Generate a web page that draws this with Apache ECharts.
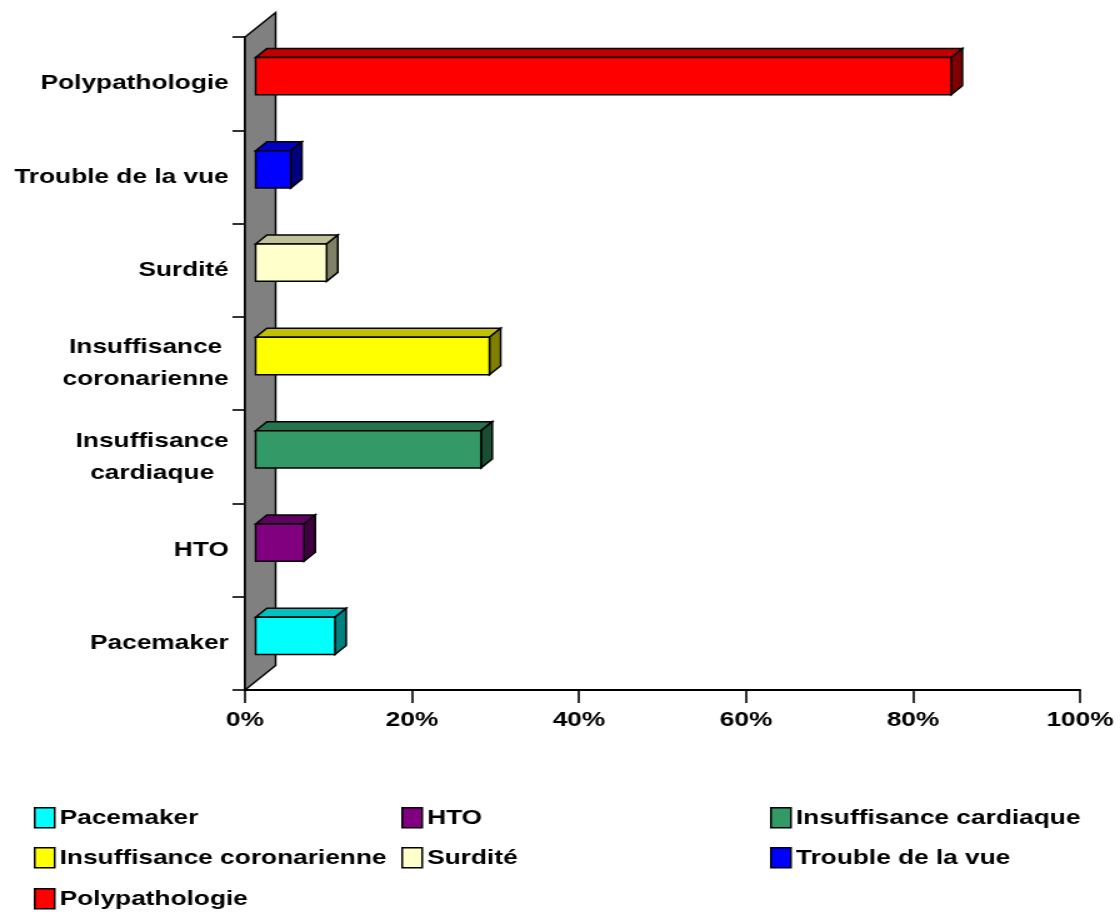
<!DOCTYPE html>
<html>
<head>
<meta charset="utf-8">
<script src="https://cdn.jsdelivr.net/npm/echarts@6/dist/echarts.min.js"></script>
<style>
  html, body { margin: 0; padding: 0; background: #fff; overflow: hidden; }
  /* the chart is laid out narrow and stretched horizontally, like the original wide export */
  #chart { width: 896px; height: 912px; transform: scaleX(1.25); transform-origin: 0 0; }
</style>
</head>
<body>
<div id="chart"></div>
<script>
// Categories, bottom to top
const categories = ['Pacemaker', 'HTO', 'Insuffisance cardiaque', 'Insuffisance coronarienne', 'Surdité', 'Trouble de la vue', 'Polypathologie'];
const axisLabels = ['Pacemaker', 'HTO', 'Insuffisance\ncardiaque', 'Insuffisance\ncoronarienne', 'Surdité', 'Trouble de la vue', 'Polypathologie'];
// Share of patients (%)
const values = [9.5, 5.8, 27.0, 28.0, 8.5, 4.2, 83.3];

// Face colours of each 3D bar
const frontColors = ['#00FFFF', '#800080', '#339966', '#FFFF00', '#FFFFCC', '#0000FF', '#FF0000'];
const topColors   = ['#00C0C0', '#600060', '#267350', '#C0C000', '#C0C099', '#0000C0', '#C00000'];
const sideColors  = ['#008080', '#400040', '#1A4D33', '#808000', '#808066', '#000080', '#800000'];

// Legend grid: [column, row] of each category
const legendCells = [[0, 0], [1, 0], [2, 0], [0, 1], [1, 1], [2, 1], [0, 2]];
const legendColumnLeft = [27, 321, 616];
const legendRowTop = [807, 847, 888];

const FONT = "'Liberation Sans', Arial, sans-serif";
const WALL_DEPTH = 24.5;
const BAR_OX = 8.5, BAR_OY = -7.5, BAR_DEPTH = 9;
const EDGE = { stroke: '#000', lineWidth: 1.5 };

function wallRenderer(params, api) {
  const cs = params.coordSys;
  const x0 = api.coord([0, 0])[0];
  const top = cs.y, bot = cs.y + cs.height, d = WALL_DEPTH;
  return {
    type: 'polygon',
    shape: { points: [[x0, bot], [x0, top], [x0 + d, top - d], [x0 + d, bot - d]] },
    style: Object.assign({ fill: '#808080' }, EDGE)
  };
}

function barRenderer(k) {
  return function (params, api) {
    const v = api.value(0), c = api.value(1);
    const a = api.coord([0, c]);
    const b = api.coord([v, c]);
    const h = api.size([0, 1])[1] * 0.4;
    const xl = a[0] + BAR_OX, xr = b[0] + BAR_OX;
    const yt = a[1] + BAR_OY - h / 2, yb = yt + h;
    const d = BAR_DEPTH;
    return {
      type: 'group',
      children: [
        { type: 'polygon', shape: { points: [[xl, yt], [xr, yt], [xr + d, yt - d], [xl + d, yt - d]] },
          style: Object.assign({ fill: topColors[k] }, EDGE) },
        { type: 'polygon', shape: { points: [[xr, yt], [xr + d, yt - d], [xr + d, yb - d], [xr, yb]] },
          style: Object.assign({ fill: sideColors[k] }, EDGE) },
        { type: 'rect', shape: { x: xl, y: yt, width: xr - xl, height: yb - yt },
          style: Object.assign({ fill: frontColors[k] }, EDGE) }
      ]
    };
  };
}

const series = [{
  type: 'custom',
  name: 'wall',
  silent: true,
  renderItem: wallRenderer,
  data: [[0, 0]],
  z: 1
}];
categories.forEach(function (name, k) {
  series.push({
    type: 'custom',
    name: name,
    renderItem: barRenderer(k),
    itemStyle: { color: frontColors[k] },
    encode: { x: 0, y: 1 },
    data: [[values[k], k]],
    z: 2
  });
});

const legends = categories.map(function (name, k) {
  return {
    data: [name],
    left: legendColumnLeft[legendCells[k][0]],
    top: legendRowTop[legendCells[k][1]],
    icon: 'rect',
    itemWidth: 16,
    itemHeight: 20,
    padding: 0,
    selectedMode: false,
    itemStyle: { borderColor: '#000', borderWidth: 1.5 },
    textStyle: { fontFamily: FONT, fontSize: 21, fontWeight: 'bold', color: '#000', padding: [0, 0, 0, -1] }
  };
});

const chart = echarts.init(document.getElementById('chart'), null, { renderer: 'canvas' });
chart.setOption({
  animation: false,
  backgroundColor: '#fff',
  grid: { left: 196, right: 32, top: 37, bottom: 222 },
  xAxis: {
    type: 'value',
    min: 0,
    max: 100,
    interval: 20,
    axisLine: { show: true, lineStyle: { color: '#000', width: 2 } },
    axisTick: { show: true, length: 13, lineStyle: { color: '#000', width: 1.6 } },
    splitLine: { show: false },
    axisLabel: {
      margin: 20,
      formatter: '{value}%',
      fontFamily: FONT, fontSize: 21, fontWeight: 'bold', color: '#000'
    }
  },
  yAxis: {
    type: 'category',
    data: axisLabels,
    axisLine: { show: true, lineStyle: { color: '#000', width: 2 } },
    axisTick: { show: true, length: 10, lineStyle: { color: '#000', width: 1.6 } },
    splitLine: { show: false },
    axisLabel: {
      interval: 0,
      margin: 13,
      formatter: function (v) {
        return v.split('\n').map(function (s) { return '{c|' + s + '}'; }).join('\n');
      },
      rich: {
        c: { align: 'center', fontFamily: FONT, fontSize: 21, fontWeight: 'bold', color: '#000', lineHeight: 32 }
      }
    }
  },
  legend: legends,
  series: series
});
</script>
</body>
</html>
